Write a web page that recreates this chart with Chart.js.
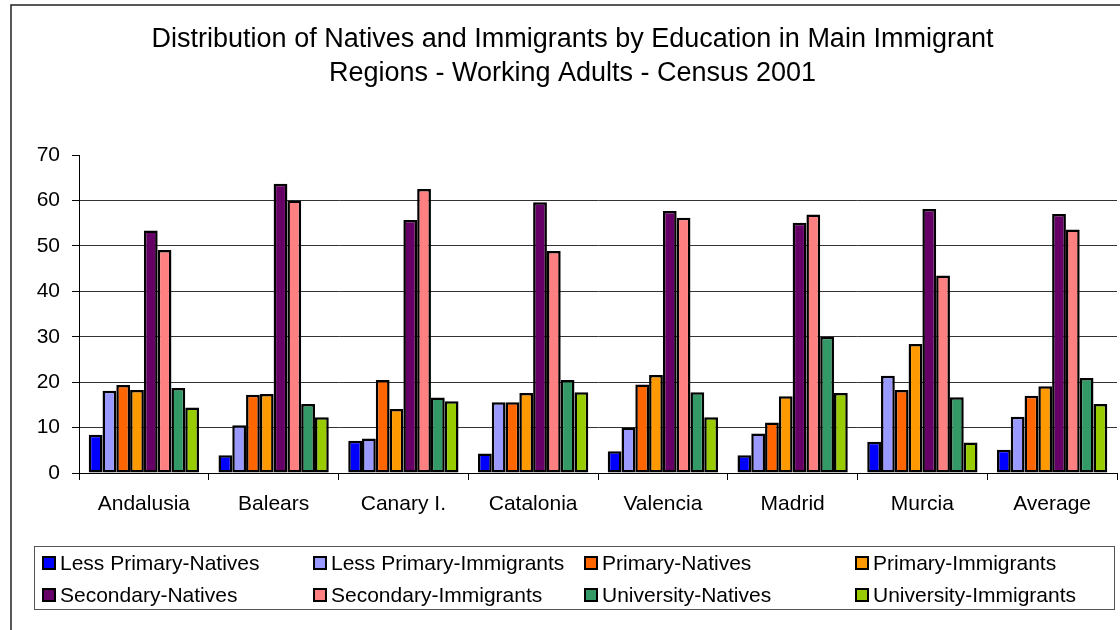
<!DOCTYPE html>
<html>
<head>
<meta charset="utf-8">
<title>Natives and Immigrants by Education</title>
<script src="https://cdn.jsdelivr.net/npm/chart.js@4"></script>
<style>
  html, body { margin: 0; padding: 0; background: #fff; }
  #wrap { width: 1120px; height: 630px; }
</style>
</head>
<body>
<div id="wrap"><canvas id="barChart" width="1120" height="630"></canvas></div>
<script>
// regions on the x axis
var regions = ['Andalusia', 'Balears', 'Canary I.', 'Catalonia', 'Valencia', 'Madrid', 'Murcia', 'Average'];

// percent of working adults
var lessPrimaryNatives     = [8.4, 3.9, 7.1, 4.3, 4.8, 3.9, 6.9, 5.1];
var lessPrimaryImmigrants  = [18.1, 10.5, 7.6, 15.6, 10.0, 8.7, 21.4, 12.4];
var primaryNatives         = [19.4, 17.2, 20.5, 15.6, 19.5, 11.1, 18.3, 17.0];
var primaryImmigrants      = [18.3, 17.4, 14.1, 17.6, 21.6, 16.9, 28.4, 19.1];
var secondaryNatives       = [53.4, 63.7, 55.7, 59.6, 57.7, 55.1, 58.1, 57.0];
var secondaryImmigrants    = [49.1, 60.0, 62.5, 48.9, 56.2, 56.9, 43.5, 53.6];
var universityNatives      = [18.7, 15.2, 16.6, 20.5, 17.8, 30.0, 16.7, 20.9];
var universityImmigrants   = [14.4, 12.3, 15.8, 17.8, 12.3, 17.6, 6.7, 15.2];

var yTicks = [0, 10, 20, 30, 40, 50, 60, 70];

var seriesNames = ['Less Primary-Natives', 'Less Primary-Immigrants', 'Primary-Natives', 'Primary-Immigrants',
                   'Secondary-Natives', 'Secondary-Immigrants', 'University-Natives', 'University-Immigrants'];
var seriesData = [lessPrimaryNatives, lessPrimaryImmigrants, primaryNatives, primaryImmigrants,
                  secondaryNatives, secondaryImmigrants, universityNatives, universityImmigrants];
var seriesColors = ['#0000ff', '#9999ff', '#ff6600', '#ff9900', '#660066', '#ff8080', '#339966', '#99cc00'];

var FONT = '"Liberation Sans", Arial, sans-serif';

var datasets = [];
for (var i = 0; i < seriesNames.length; i++) {
  datasets.push({
    label: seriesNames[i],
    data: seriesData[i],
    backgroundColor: seriesColors[i],
    borderColor: '#000',
    borderWidth: 2.5,
    borderSkipped: false,
    categoryPercentage: 0.85,
    barPercentage: 1.0
  });
}

// thin frame on top and left, like the cropped original
var frame = {
  id: 'frame',
  beforeDraw: function(chart) {
    var c = chart.ctx;
    c.save();
    c.strokeStyle = '#222';
    c.lineWidth = 1.5;
    c.beginPath();
    c.moveTo(11, chart.height);
    c.lineTo(11, 5);
    c.lineTo(chart.width, 5);
    c.stroke();
    c.restore();
  }
};

// boxed legend, 4 columns x 2 rows
var boxLegend = {
  id: 'boxLegend',
  afterDraw: function(chart) {
    var c = chart.ctx;
    var top = chart.height - 84;
    c.save();
    c.strokeStyle = '#555';
    c.lineWidth = 1;
    c.strokeRect(34.5, top + 0.5, 1080, 63);
    c.font = '21px ' + FONT;
    c.textBaseline = 'middle';
    c.textAlign = 'left';
    var ds = chart.data.datasets;
    for (var k = 0; k < ds.length; k++) {
      var col = k % 4;
      var row = Math.floor(k / 4);
      var x = 43 + col * 271;
      var y = top + 17 + row * 32;
      c.fillStyle = ds[k].backgroundColor;
      c.fillRect(x, y - 6, 12, 12);
      c.strokeStyle = '#000';
      c.lineWidth = 2;
      c.strokeRect(x, y - 6, 12, 12);
      c.fillStyle = '#000';
      c.fillText(ds[k].label, x + 17, y + 1);
    }
    c.restore();
  }
};

var ctx = document.getElementById('barChart').getContext('2d');
var chart = new Chart(ctx, {
  type: 'bar',
  data: {
    labels: regions,
    datasets: datasets
  },
  options: {
    responsive: false,
    animation: false,
    layout: { padding: { left: 28, right: 3, top: 0, bottom: 0 } },
    plugins: {
      legend: { display: false },
      tooltip: { enabled: false },
      title: {
        display: true,
        text: ['Distribution of Natives and Immigrants by Education in Main Immigrant',
               'Regions - Working Adults - Census 2001'],
        color: '#000',
        font: { family: FONT, size: 27, weight: 'normal', lineHeight: 1.26 },
        padding: { top: 23, bottom: 64 }
      }
    },
    scales: {
      x: {
        grid: { display: true, drawOnChartArea: false, tickLength: 7, tickColor: '#000', offset: true },
        border: { color: '#000', width: 1 },
        ticks: { color: '#000', font: { family: FONT, size: 21 }, padding: 12, maxRotation: 0 },
        afterFit: function(scale) { scale.height = 157; }
      },
      y: {
        min: 0,
        max: 70,
        afterBuildTicks: function(scale) {
          scale.ticks = yTicks.map(function(v) { return { value: v }; });
        },
        grid: {
          color: function(c) { return c.tick && c.tick.value === 70 ? 'rgba(0,0,0,0)' : '#333'; },
          tickColor: '#000',
          tickLength: 7,
          lineWidth: 1
        },
        border: { color: '#000', width: 1 },
        ticks: { color: '#000', font: { family: FONT, size: 21 }, padding: 12 },
        afterFit: function(scale) { scale.width = 51; }
      }
    }
  },
  plugins: [frame, boxLegend]
});
</script>
</body>
</html>
